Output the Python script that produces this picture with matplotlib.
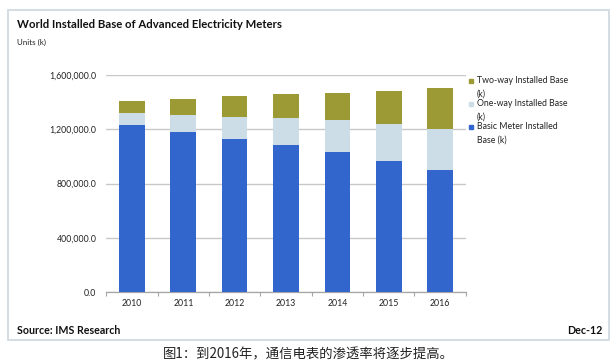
import matplotlib
matplotlib.use("Agg")
import matplotlib.pyplot as plt
from matplotlib.patches import Rectangle
from matplotlib.ticker import FuncFormatter, FixedLocator

plt.rcParams["font.family"] = ["Lato", "DejaVu Sans"]

years = ["2010", "2011", "2012", "2013", "2014", "2015", "2016"]
basic = [1229000, 1177000, 1126000, 1081000, 1030000, 966000, 900000]
one_way = [91000, 130000, 167000, 200000, 236000, 270000, 302000]
two_way = [90000, 116000, 152000, 176000, 204000, 246000, 300000]
series_names = ["Two-way Installed Base\n(k)", "One-way Installed Base\n(k)",
                "Basic Meter Installed\nBase (k)"]
yticks = [0, 400000, 800000, 1200000, 1600000]

c_basic = "#3366cc"
c_one = "#cddde8"
c_two = "#9c9a35"

fig = plt.figure(figsize=(6.15, 3.63), dpi=100)
W, H = 615, 363

def fx(px):
    return px / W

def fy(py):
    return 1 - py / H

# outer frame
fig.patches.append(Rectangle((fx(8), fy(340)), fx(609) - fx(8), fy(10) - fy(340),
                             transform=fig.transFigure, fill=False,
                             edgecolor="#d3dde3", linewidth=1.4))

ax = fig.add_axes([fx(106.3), fy(292), fx(465.7) - fx(106.3), fy(75) - fy(292)])

x = list(range(len(years)))
bottom2 = [b + o for b, o in zip(basic, one_way)]
ax.bar(x, basic, width=0.5, color=c_basic, zorder=3)
ax.bar(x, one_way, width=0.5, bottom=basic, color=c_one, zorder=3)
ax.bar(x, two_way, width=0.5, bottom=bottom2, color=c_two, zorder=3)

ax.set_xlim(-0.5, len(years) - 0.5)
ax.set_ylim(0, 1600000)
ax.set_yticks(yticks)
ax.yaxis.set_major_formatter(FuncFormatter(lambda v, p: f"{v:,.1f}"))
ax.set_xticks(x)
ax.set_xticklabels(years)
ax.xaxis.set_minor_locator(FixedLocator([i - 0.5 for i in range(len(years) + 1)]))

for s in ["top", "right", "left"]:
    ax.spines[s].set_visible(False)
ax.spines["bottom"].set_color("#a6a6a6")
ax.spines["bottom"].set_linewidth(0.9)
ax.grid(axis="y", color="#c8c8c8", linewidth=1.0, zorder=0)
ax.tick_params(axis="y", length=0, pad=7, labelsize=6.3, colors="#222222")
ax.tick_params(axis="x", which="major", length=0, pad=5, labelsize=6.3, colors="#222222")
ax.tick_params(axis="x", which="minor", length=3, color="#a6a6a6", width=0.8)

# legend (square next to the first line of each label)
colors = [c_two, c_one, c_basic]
for i, (name, c) in enumerate(zip(series_names, colors)):
    ytop = 81 + i * 23
    fig.patches.append(Rectangle((fx(469), fy(ytop + 2)), fx(4), fy(0) - fy(4),
                                 transform=fig.transFigure, color=c))
    fig.text(fx(477), fy(ytop - 5), name, fontsize=6.3, va="top", ha="left",
             linespacing=1.7, color="#222222")

fig.text(fx(17), fy(24), "World Installed Base of Advanced Electricity Meters",
         fontsize=8.2, fontweight="bold", va="center", ha="left", color="#111111")
fig.text(fx(17), fy(42), "Units (k)", fontsize=5.8, va="center", ha="left", color="#222222")
fig.text(fx(17), fy(331), "Source: IMS Research", fontsize=7.7, fontweight="bold",
         va="center", ha="left", color="#111111")
fig.text(fx(603), fy(331), "Dec-12", fontsize=7.7, fontweight="bold",
         va="center", ha="right", color="#111111")
fig.text(fx(308), fy(354), "图1：到2016年，通信电表的渗透率将逐步提高。", fontsize=9.6,
         family=["Noto Sans CJK SC", "DejaVu Sans"], style="italic",
         va="center", ha="center", color="#222222")

fig.savefig("out.png", dpi=100)
